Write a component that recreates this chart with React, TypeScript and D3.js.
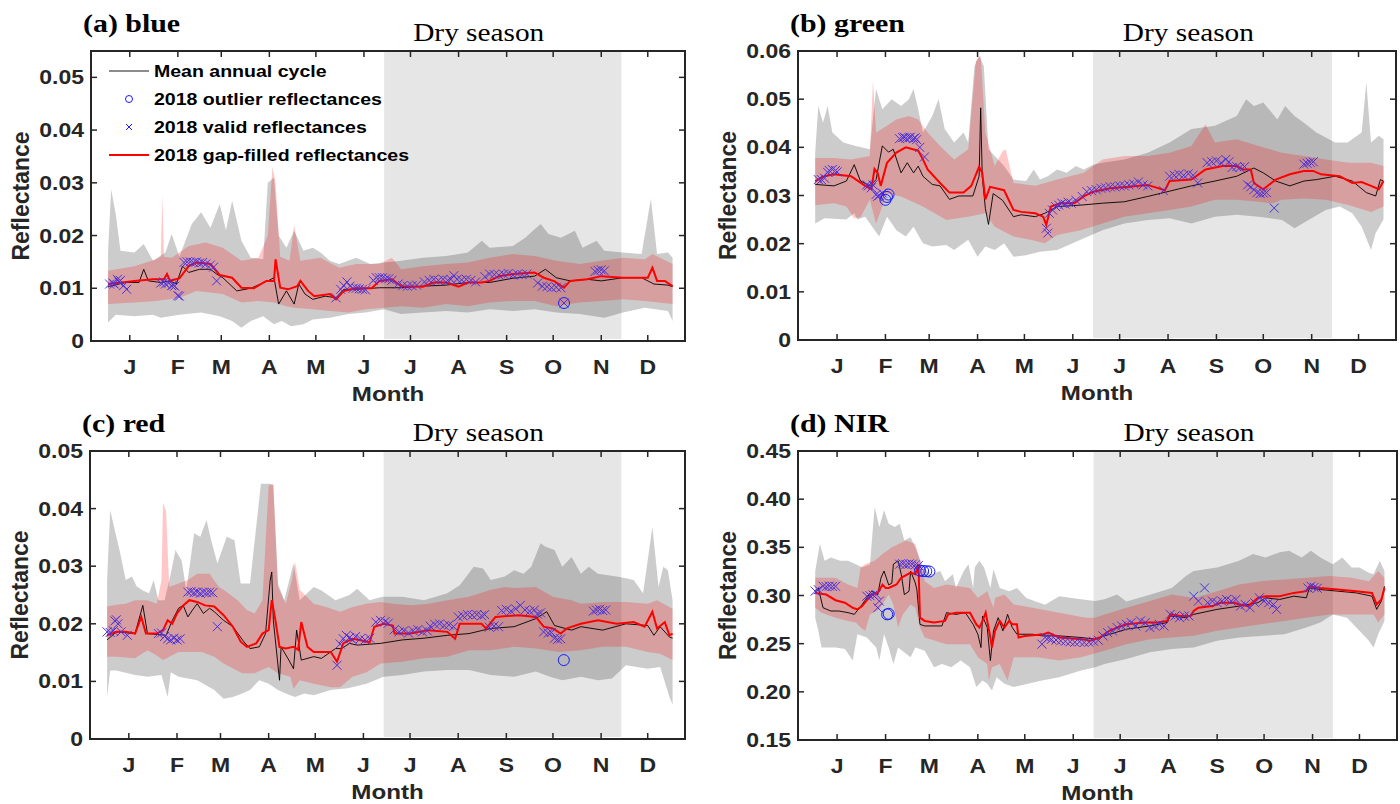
import * as d3 from 'd3';

type Pt = [number, number];

const monthLabels = ['J', 'F', 'M', 'A', 'M', 'J', 'J', 'A', 'S', 'O', 'N', 'D'];
const monthTickDays = [15, 46, 74, 105, 135, 166, 196, 227, 258, 288, 319, 349];
const drySeason = [179, 332];

// ---------- (a) blue ----------
const blueMean: Pt[] = [[1,0.0103],[12,0.0111],[21,0.0111],[24,0.0136],[27,0.0114],[35,0.0111],[41,0.0114],[45,0.0108],[49,0.0142],[53,0.0130],[60,0.0136],[67,0.0136],[71,0.0127],[75,0.0120],[84,0.0095],[93,0.0100],[104,0.0114],[108,0.0120],[111,0.0070],[116,0.0095],[121,0.0070],[124,0.0108],[128,0.0089],[133,0.0079],[141,0.0085],[148,0.0082],[153,0.0098],[161,0.0098],[176,0.0101],[190,0.0101],[204,0.0104],[219,0.0106],[233,0.0111],[247,0.0111],[262,0.0119],[276,0.0123],[283,0.0136],[290,0.0120],[299,0.0114],[310,0.0117],[319,0.0114],[333,0.0120],[345,0.0120],[353,0.0108],[362,0.0106],[365,0.0103]];
const blueFilled: Pt[] = [[1,0.0108],[10,0.0111],[18,0.0114],[30,0.0117],[37,0.0117],[39,0.0127],[41,0.0114],[47,0.0119],[53,0.0142],[58,0.0149],[67,0.0146],[73,0.0125],[81,0.0120],[87,0.0101],[95,0.0100],[103,0.0114],[108,0.0114],[109,0.0155],[112,0.0101],[117,0.0098],[123,0.0104],[125,0.0114],[130,0.0095],[134,0.0085],[144,0.0089],[148,0.0079],[153,0.0095],[161,0.0100],[171,0.0100],[176,0.0114],[184,0.0117],[190,0.0104],[204,0.0103],[211,0.0111],[219,0.0111],[227,0.0103],[233,0.0111],[242,0.0111],[247,0.0114],[253,0.0123],[262,0.0127],[276,0.0130],[282,0.0120],[289,0.0113],[295,0.0101],[299,0.0114],[310,0.0117],[319,0.0123],[333,0.0120],[349,0.0120],[352,0.0139],[355,0.0114],[360,0.0114],[365,0.0104]];
const blueGrayHi: Pt[] = [[1,0.017],[3,0.0288],[6,0.024],[9,0.0171],[18,0.0168],[24,0.0184],[30,0.0152],[38,0.0168],[42,0.0203],[47,0.016],[55,0.0222],[61,0.0244],[67,0.0215],[73,0.026],[77,0.021],[81,0.0266],[87,0.019],[93,0.0158],[101,0.0155],[104,0.030],[108,0.031],[111,0.020],[116,0.0177],[121,0.0209],[127,0.0171],[133,0.0177],[138,0.0168],[144,0.0152],[150,0.0146],[161,0.0158],[170,0.0146],[179,0.0149],[190,0.0152],[204,0.0158],[219,0.0161],[233,0.0168],[242,0.019],[247,0.0177],[262,0.018],[270,0.0196],[276,0.0212],[280,0.0222],[285,0.0203],[293,0.0196],[302,0.0209],[307,0.0177],[316,0.019],[321,0.0171],[333,0.0168],[345,0.0165],[351,0.027],[355,0.0165],[362,0.0168],[365,0.0158]];
const blueGrayLo: Pt[] = [[1,0.0035],[6,0.005],[18,0.0047],[30,0.005],[35,0.0044],[47,0.005],[61,0.0054],[73,0.0047],[81,0.0038],[87,0.0025],[93,0.0038],[101,0.0047],[108,0.0032],[113,0.0038],[119,0.0028],[127,0.0032],[133,0.0041],[144,0.0044],[156,0.0051],[167,0.0054],[179,0.006],[190,0.0051],[204,0.0054],[219,0.0057],[233,0.0054],[247,0.006],[262,0.0057],[276,0.006],[290,0.0054],[305,0.0051],[321,0.0044],[333,0.0054],[347,0.0063],[362,0.0057],[365,0.0038]];
const bluePinkHi: Pt[] = [[1,0.0133],[18,0.0142],[32,0.0155],[35,0.016],[36,0.0278],[37,0.016],[42,0.0158],[53,0.018],[64,0.0187],[75,0.0177],[87,0.0152],[98,0.0158],[104,0.020],[107,0.033],[109,0.030],[112,0.016],[118,0.0152],[121,0.022],[125,0.0152],[138,0.0158],[150,0.0139],[161,0.0146],[176,0.0146],[184,0.0158],[190,0.0136],[204,0.0142],[219,0.0146],[233,0.0149],[247,0.0158],[262,0.0165],[276,0.0161],[290,0.0152],[305,0.0146],[319,0.0152],[333,0.0158],[347,0.0155],[352,0.0165],[365,0.0146]];
const bluePinkLo: Pt[] = [[1,0.007],[18,0.0073],[32,0.0076],[47,0.0082],[58,0.0095],[75,0.0089],[87,0.0073],[98,0.0076],[108,0.0073],[116,0.0066],[121,0.0063],[133,0.006],[144,0.0057],[156,0.0054],[167,0.006],[179,0.0063],[190,0.0066],[204,0.0063],[219,0.007],[233,0.0066],[247,0.0073],[262,0.0076],[276,0.0076],[290,0.0066],[305,0.0073],[319,0.0076],[333,0.0079],[347,0.0076],[365,0.007]];
const blueValid: Pt[] = [[2,0.0108],[4,0.011],[5,0.0108],[7,0.0117],[8,0.0112],[9,0.0115],[11,0.0105],[13,0.0098],[35,0.011],[37,0.0112],[38,0.0108],[40,0.011],[42,0.0105],[43,0.0106],[44,0.0104],[46,0.0086],[47,0.0085],[50,0.0149],[52,0.015],[54,0.015],[56,0.0149],[58,0.015],[60,0.0148],[62,0.0149],[64,0.0146],[67,0.0144],[69,0.014],[71,0.0114],[148,0.0082],[151,0.0098],[153,0.0105],[155,0.0112],[157,0.0104],[159,0.01],[161,0.01],[163,0.0099],[165,0.0098],[167,0.0097],[172,0.0115],[174,0.012],[176,0.012],[178,0.012],[180,0.0118],[182,0.0118],[184,0.0115],[188,0.0108],[191,0.0105],[194,0.0104],[197,0.0105],[200,0.0106],[205,0.0112],[208,0.0115],[211,0.0117],[214,0.0115],[217,0.0117],[220,0.0115],[222,0.0117],[224,0.0124],[226,0.0117],[229,0.0116],[232,0.0117],[235,0.0115],[238,0.0112],[244,0.0122],[247,0.0127],[250,0.0126],[253,0.0125],[256,0.0127],[259,0.0128],[262,0.0125],[265,0.0127],[268,0.0126],[271,0.0127],[278,0.011],[281,0.0104],[284,0.0103],[287,0.0101],[290,0.0102],[293,0.0101],[295,0.0072],[315,0.0132],[317,0.0134],[319,0.0135],[321,0.0133]];
const blueOutlier: Pt[] = [[295,0.0072]];

// ---------- (b) green ----------
const greenMean: Pt[] = [[1,0.0323],[13,0.032],[21,0.033],[26,0.0364],[30,0.033],[36,0.032],[40,0.0333],[44,0.0403],[48,0.039],[51,0.0396],[56,0.0347],[60,0.0368],[64,0.0347],[67,0.0361],[70,0.034],[76,0.0323],[81,0.032],[87,0.0292],[93,0.0299],[102,0.0299],[106,0.034],[107,0.0482],[108,0.034],[110,0.0273],[112,0.024],[115,0.0304],[121,0.029],[128,0.0256],[133,0.026],[142,0.0256],[148,0.0263],[156,0.0277],[171,0.028],[185,0.0284],[199,0.0287],[214,0.0298],[228,0.0309],[242,0.032],[257,0.033],[271,0.034],[282,0.0357],[288,0.0347],[296,0.033],[305,0.032],[314,0.033],[322,0.0333],[334,0.034],[345,0.033],[354,0.0306],[360,0.0299],[363,0.0333],[365,0.033]];
const greenFilled: Pt[] = [[1,0.033],[7,0.034],[13,0.0344],[24,0.034],[33,0.032],[37,0.0313],[39,0.0355],[41,0.0347],[43,0.032],[47,0.0368],[53,0.0389],[59,0.040],[67,0.0393],[70,0.0375],[73,0.0354],[81,0.0326],[87,0.0306],[96,0.0306],[101,0.032],[106,0.036],[108,0.0347],[110,0.0292],[113,0.0318],[122,0.0311],[128,0.027],[133,0.0266],[142,0.0263],[147,0.0256],[149,0.0239],[152,0.0277],[158,0.0284],[167,0.0284],[173,0.0298],[179,0.0308],[190,0.0315],[202,0.0318],[214,0.0322],[225,0.0311],[228,0.033],[242,0.0333],[251,0.0354],[262,0.0361],[271,0.0361],[275,0.0354],[280,0.0354],[282,0.0326],[288,0.0313],[296,0.0333],[305,0.0344],[314,0.0351],[320,0.0351],[325,0.0344],[337,0.034],[345,0.0326],[351,0.0328],[357,0.032],[362,0.0313],[365,0.033]];
const greenGrayHi: Pt[] = [[1,0.0389],[3,0.0486],[6,0.0451],[9,0.0486],[12,0.0431],[19,0.041],[27,0.0403],[36,0.0396],[40,0.0521],[44,0.0479],[50,0.05],[56,0.0486],[61,0.05],[64,0.0521],[67,0.0479],[70,0.0431],[76,0.0465],[80,0.05],[84,0.0438],[90,0.041],[96,0.0431],[99,0.041],[103,0.0569],[106,0.059],[109,0.0569],[112,0.0396],[116,0.0382],[122,0.0361],[128,0.0333],[136,0.033],[141,0.0354],[145,0.0333],[150,0.034],[156,0.0354],[162,0.0347],[168,0.0361],[173,0.0354],[179,0.0364],[185,0.0368],[199,0.0375],[214,0.0389],[228,0.041],[242,0.0438],[257,0.0445],[271,0.0465],[277,0.05],[282,0.0486],[288,0.0493],[297,0.0458],[302,0.0486],[308,0.0465],[314,0.0451],[322,0.0431],[334,0.041],[342,0.041],[351,0.0431],[354,0.0535],[357,0.041],[362,0.0424],[365,0.0417]];
const greenGrayLo: Pt[] = [[1,0.0242],[7,0.0253],[21,0.025],[26,0.0263],[28,0.025],[33,0.0256],[42,0.0215],[47,0.0256],[53,0.0228],[59,0.0215],[64,0.0235],[70,0.0201],[76,0.0194],[85,0.0197],[90,0.0187],[99,0.0208],[105,0.0173],[110,0.0194],[116,0.0187],[122,0.0201],[128,0.0173],[136,0.0176],[145,0.0183],[156,0.0187],[171,0.0208],[185,0.0228],[199,0.0242],[214,0.0249],[228,0.0253],[242,0.0242],[257,0.0256],[271,0.026],[285,0.0256],[300,0.0249],[308,0.0232],[317,0.0249],[328,0.027],[337,0.0277],[345,0.0263],[351,0.0235],[357,0.0187],[360,0.0222],[365,0.025]];
const greenPinkHi: Pt[] = [[1,0.0378],[13,0.0378],[24,0.0375],[36,0.0382],[38,0.054],[40,0.0431],[47,0.0445],[53,0.0458],[61,0.0465],[67,0.0458],[73,0.0431],[81,0.0403],[90,0.0375],[99,0.0396],[104,0.058],[107,0.059],[110,0.0431],[116,0.0361],[121,0.0392],[123,0.0396],[128,0.0326],[142,0.032],[156,0.0333],[173,0.0347],[185,0.0375],[199,0.0382],[214,0.0382],[228,0.0389],[242,0.0403],[251,0.0448],[257,0.041],[271,0.0417],[285,0.0403],[300,0.0389],[314,0.0382],[328,0.0375],[343,0.0368],[357,0.0368],[365,0.0361]];
const greenPinkLo: Pt[] = [[1,0.028],[13,0.0284],[21,0.0277],[26,0.0253],[30,0.0255],[36,0.0291],[40,0.0242],[47,0.0304],[56,0.0298],[70,0.0277],[85,0.0249],[99,0.0256],[110,0.0263],[116,0.0235],[128,0.0215],[139,0.0208],[148,0.0201],[156,0.0218],[171,0.0228],[185,0.0242],[199,0.0256],[214,0.0263],[228,0.027],[242,0.0277],[257,0.0291],[271,0.0291],[285,0.0287],[294,0.0284],[300,0.0291],[314,0.0294],[328,0.0291],[343,0.028],[357,0.0266],[365,0.0277]];
const greenValid: Pt[] = [[3,0.0333],[5,0.0333],[7,0.0336],[9,0.0348],[10,0.0352],[12,0.0354],[14,0.0352],[15,0.0349],[34,0.0322],[35,0.032],[37,0.0316],[38,0.0322],[40,0.0302],[41,0.0298],[42,0.03],[44,0.0305],[55,0.0418],[57,0.042],[58,0.0421],[59,0.0419],[61,0.042],[62,0.0421],[64,0.0418],[65,0.042],[66,0.0416],[68,0.04],[71,0.038],[149,0.0232],[150,0.0222],[151,0.0263],[153,0.027],[155,0.0277],[157,0.028],[159,0.0284],[161,0.0282],[163,0.0286],[165,0.0284],[168,0.029],[172,0.0298],[175,0.0308],[178,0.031],[181,0.0312],[184,0.0315],[187,0.0316],[190,0.0318],[193,0.0318],[196,0.032],[199,0.032],[202,0.0322],[205,0.0324],[208,0.0328],[211,0.0322],[214,0.032],[224,0.031],[228,0.034],[231,0.0342],[234,0.0344],[237,0.0342],[240,0.0345],[243,0.0342],[246,0.0326],[252,0.0368],[255,0.037],[258,0.0372],[261,0.0368],[264,0.0375],[266,0.037],[268,0.0358],[271,0.036],[273,0.0358],[276,0.036],[278,0.0322],[280,0.0318],[282,0.0312],[284,0.0306],[286,0.0304],[288,0.0305],[290,0.0306],[295,0.0274],[314,0.0365],[316,0.0367],[318,0.0369],[320,0.037]];
const greenOutlier: Pt[] = [[46,0.0291],[47,0.0297],[48,0.0302]];

// ---------- (c) red ----------
const redMean: Pt[] = [[1,0.0172],[7,0.0186],[19,0.0183],[24,0.0232],[27,0.0183],[39,0.018],[43,0.0206],[47,0.0227],[50,0.0232],[53,0.0212],[56,0.0224],[59,0.0235],[63,0.0218],[67,0.0227],[70,0.0221],[76,0.0206],[82,0.0195],[89,0.0169],[93,0.0157],[99,0.016],[103,0.0183],[106,0.0276],[107,0.029],[108,0.0206],[112,0.0102],[113,0.016],[118,0.0137],[121,0.0122],[123,0.0189],[126,0.0137],[134,0.0143],[139,0.014],[148,0.0157],[152,0.0157],[157,0.0166],[162,0.0163],[177,0.0166],[191,0.0172],[205,0.0175],[220,0.018],[234,0.0183],[248,0.0192],[263,0.0195],[277,0.0209],[284,0.0221],[289,0.0197],[300,0.0189],[306,0.0195],[320,0.0189],[335,0.02],[349,0.0197],[353,0.018],[357,0.0195],[363,0.0177],[365,0.0175]];
const redFilled: Pt[] = [[1,0.018],[7,0.0186],[13,0.0186],[19,0.0183],[23,0.0212],[26,0.0183],[33,0.0183],[37,0.0189],[40,0.0206],[43,0.02],[46,0.0218],[50,0.0232],[54,0.0241],[59,0.0238],[64,0.0232],[70,0.023],[76,0.0215],[82,0.0195],[87,0.0169],[91,0.016],[97,0.0166],[101,0.0183],[105,0.0189],[107,0.0241],[109,0.0212],[112,0.016],[116,0.0157],[121,0.016],[124,0.0155],[126,0.0203],[130,0.016],[134,0.0151],[145,0.0151],[149,0.0134],[153,0.0166],[159,0.0174],[165,0.0171],[170,0.0168],[173,0.0195],[179,0.02],[185,0.0197],[186,0.0183],[196,0.0183],[208,0.0189],[220,0.0186],[225,0.0174],[228,0.02],[242,0.02],[245,0.0192],[251,0.0212],[266,0.0215],[277,0.0212],[282,0.0195],[288,0.0192],[293,0.0183],[297,0.0192],[306,0.02],[317,0.0206],[329,0.02],[340,0.0203],[347,0.0195],[352,0.0221],[355,0.0192],[360,0.0203],[363,0.018],[365,0.0183]];
const redGrayHi: Pt[] = [[1,0.0277],[3,0.0397],[6,0.0362],[9,0.0328],[13,0.0276],[17,0.0282],[20,0.0265],[24,0.0258],[28,0.0253],[31,0.0276],[34,0.0241],[38,0.0241],[42,0.0287],[45,0.0328],[49,0.031],[52,0.0258],[57,0.0357],[61,0.0351],[65,0.038],[68,0.0345],[72,0.0305],[78,0.0351],[83,0.0345],[87,0.027],[93,0.027],[100,0.0443],[106,0.0443],[108,0.044],[111,0.027],[115,0.0241],[121,0.0305],[125,0.0241],[134,0.0264],[139,0.0258],[148,0.0241],[157,0.025],[162,0.0261],[170,0.0241],[178,0.0247],[191,0.0247],[205,0.0241],[220,0.0253],[228,0.0267],[237,0.0299],[243,0.0296],[248,0.0276],[257,0.0282],[263,0.0293],[269,0.0287],[274,0.0299],[280,0.034],[283,0.0334],[289,0.0328],[294,0.0299],[300,0.0316],[306,0.0287],[311,0.0299],[317,0.0287],[329,0.0282],[335,0.0279],[340,0.0276],[346,0.0253],[352,0.0368],[356,0.0264],[359,0.0299],[362,0.0293],[365,0.0241]];
const redGrayLo: Pt[] = [[1,0.0073],[3,0.0119],[7,0.0119],[19,0.0111],[27,0.0108],[36,0.0111],[40,0.0073],[42,0.0116],[47,0.0108],[59,0.0102],[70,0.0085],[76,0.007],[82,0.0073],[88,0.0079],[93,0.0085],[99,0.0102],[105,0.0096],[111,0.0085],[116,0.0079],[122,0.0073],[128,0.0079],[134,0.0076],[145,0.0085],[156,0.0088],[168,0.0096],[179,0.0108],[191,0.0111],[205,0.0117],[220,0.012],[234,0.012],[248,0.0111],[263,0.0108],[277,0.0117],[286,0.0108],[294,0.0102],[306,0.0108],[317,0.0102],[326,0.0105],[335,0.0128],[349,0.0122],[357,0.0125],[363,0.0073],[365,0.006]];
const redPinkHi: Pt[] = [[1,0.023],[7,0.0233],[13,0.0235],[19,0.0241],[27,0.0241],[33,0.0235],[36,0.0276],[37,0.041],[39,0.0395],[41,0.0264],[47,0.027],[53,0.0276],[59,0.0287],[67,0.0287],[73,0.0264],[76,0.0259],[85,0.0241],[91,0.0224],[96,0.0218],[101,0.0241],[105,0.044],[108,0.0443],[111,0.0264],[116,0.0235],[120,0.0276],[122,0.0308],[125,0.0259],[134,0.0235],[142,0.0229],[151,0.0221],[159,0.0229],[168,0.0235],[177,0.0238],[185,0.0235],[197,0.0232],[208,0.0235],[220,0.0241],[234,0.0247],[248,0.0259],[257,0.0264],[263,0.0262],[277,0.0264],[288,0.0247],[300,0.0241],[306,0.0235],[320,0.0238],[335,0.0238],[349,0.0235],[355,0.0241],[365,0.0226]];
const redPinkLo: Pt[] = [[1,0.0143],[7,0.0143],[19,0.014],[27,0.0154],[33,0.0145],[37,0.0137],[47,0.0151],[62,0.0151],[70,0.0143],[76,0.0131],[88,0.0114],[96,0.0114],[105,0.0125],[111,0.0114],[119,0.0108],[121,0.0087],[125,0.0102],[134,0.0096],[145,0.009],[151,0.009],[159,0.0108],[168,0.0116],[177,0.0131],[191,0.0134],[205,0.014],[220,0.0143],[234,0.0154],[248,0.0154],[263,0.016],[277,0.0157],[292,0.0151],[306,0.0154],[320,0.016],[335,0.016],[349,0.0151],[357,0.0148],[365,0.0137]];
const redValid: Pt[] = [[1,0.0186],[3,0.0185],[5,0.0188],[6,0.0205],[7,0.0207],[8,0.02],[10,0.0186],[14,0.018],[34,0.0183],[36,0.0184],[38,0.0178],[40,0.0174],[42,0.0172],[44,0.0175],[46,0.0172],[48,0.0174],[53,0.0255],[55,0.0256],[57,0.0254],[59,0.0255],[61,0.0253],[63,0.0255],[65,0.0254],[67,0.0255],[69,0.0254],[72,0.0195],[149,0.0128],[151,0.0165],[153,0.0174],[155,0.018],[157,0.0176],[159,0.0172],[161,0.0178],[164,0.0174],[167,0.0172],[170,0.0175],[174,0.0203],[177,0.0206],[180,0.0204],[182,0.0201],[186,0.019],[189,0.0186],[192,0.0188],[195,0.0184],[198,0.0188],[201,0.019],[204,0.0186],[207,0.0188],[209,0.0196],[212,0.0199],[215,0.02],[218,0.0197],[221,0.0198],[224,0.0195],[227,0.0212],[230,0.0214],[233,0.0216],[236,0.0215],[239,0.0216],[242,0.0214],[244,0.0216],[247,0.0194],[250,0.0196],[253,0.0195],[255,0.0223],[258,0.0225],[261,0.0222],[264,0.0226],[267,0.0232],[270,0.0224],[273,0.0222],[276,0.0224],[278,0.0217],[280,0.0219],[282,0.0186],[285,0.0184],[287,0.0185],[289,0.0175],[291,0.0173],[293,0.0174],[314,0.0222],[316,0.0224],[318,0.0225],[320,0.0223],[322,0.0224]];
const redOutlier: Pt[] = [[295,0.0137]];

// ---------- (d) NIR ----------
const nirMean: Pt[] = [[1,0.3045],[3,0.3079],[6,0.2873],[11,0.2839],[16,0.2839],[22,0.2822],[26,0.2804],[31,0.2907],[37,0.3045],[41,0.301],[43,0.318],[45,0.3254],[48,0.311],[50,0.3128],[51,0.3325],[54,0.336],[56,0.322],[58,0.3009],[61,0.3044],[62,0.3254],[65,0.313],[66,0.306],[68,0.27],[71,0.2684],[82,0.2684],[85,0.2822],[91,0.2804],[97,0.2822],[102,0.27],[105,0.2598],[107,0.246],[108,0.2787],[111,0.2667],[113,0.2324],[115,0.2633],[118,0.277],[121,0.2633],[124,0.2804],[127,0.2667],[130,0.2598],[140,0.2598],[146,0.2581],[157,0.2581],[171,0.2564],[180,0.2547],[186,0.2581],[200,0.265],[215,0.2684],[226,0.2719],[228,0.2787],[238,0.277],[243,0.2804],[258,0.2856],[272,0.289],[284,0.2925],[289,0.2976],[298,0.2959],[307,0.2993],[315,0.2976],[317,0.3079],[324,0.3062],[335,0.3045],[347,0.3027],[357,0.2993],[360,0.2856],[363,0.2942],[365,0.3096]];
const nirFilled: Pt[] = [[1,0.3027],[8,0.301],[14,0.2951],[20,0.2925],[25,0.2873],[28,0.2856],[31,0.289],[37,0.301],[41,0.3027],[44,0.3113],[46,0.3079],[48,0.3079],[53,0.3114],[56,0.3184],[62,0.3237],[65,0.322],[67,0.3325],[68,0.277],[71,0.2736],[77,0.2719],[84,0.2736],[86,0.2804],[91,0.2821],[100,0.2821],[104,0.2701],[106,0.2667],[108,0.2736],[110,0.2821],[113,0.2564],[114,0.2461],[116,0.2633],[119,0.2736],[122,0.2667],[125,0.2736],[127,0.2701],[130,0.2701],[131,0.2564],[135,0.258],[147,0.2598],[150,0.2615],[157,0.2564],[171,0.2547],[177,0.253],[183,0.2564],[189,0.2633],[194,0.2667],[200,0.2701],[212,0.2719],[220,0.2719],[226,0.2736],[228,0.2804],[235,0.2787],[241,0.2787],[243,0.2839],[246,0.2873],[255,0.289],[260,0.2925],[269,0.2925],[272,0.2907],[278,0.289],[284,0.2976],[289,0.2993],[298,0.2993],[307,0.3027],[315,0.3045],[317,0.3096],[324,0.3079],[335,0.3062],[347,0.3045],[357,0.3027],[360,0.2907],[363,0.2959],[365,0.3079]];
const nirGrayHi: Pt[] = [[1,0.3254],[4,0.3535],[7,0.336],[11,0.3395],[17,0.336],[22,0.336],[27,0.3325],[31,0.329],[36,0.3325],[39,0.392],[42,0.371],[45,0.3886],[48,0.3746],[52,0.371],[55,0.3746],[58,0.357],[62,0.3605],[65,0.35],[70,0.329],[75,0.322],[81,0.3254],[84,0.3149],[89,0.322],[91,0.3079],[96,0.3254],[99,0.3325],[102,0.3079],[103,0.329],[106,0.336],[109,0.329],[113,0.3079],[115,0.3272],[119,0.3079],[125,0.3044],[130,0.3079],[136,0.2974],[142,0.2938],[148,0.2903],[157,0.2993],[171,0.296],[180,0.2942],[186,0.296],[194,0.301],[200,0.2938],[215,0.3009],[229,0.3079],[238,0.3202],[243,0.3254],[258,0.329],[272,0.336],[281,0.343],[289,0.3395],[298,0.345],[304,0.3465],[312,0.3395],[318,0.3465],[324,0.3395],[332,0.3325],[338,0.3395],[344,0.329],[349,0.329],[355,0.3237],[358,0.322],[362,0.336],[365,0.3254]];
const nirGrayLo: Pt[] = [[1,0.277],[3,0.2633],[5,0.2461],[14,0.2461],[20,0.2444],[25,0.2324],[28,0.2598],[34,0.2564],[40,0.2461],[42,0.2324],[45,0.2598],[48,0.2461],[51,0.229],[54,0.2461],[62,0.2358],[65,0.2461],[71,0.2427],[77,0.2255],[82,0.229],[88,0.2255],[94,0.2324],[100,0.2255],[104,0.2049],[108,0.2118],[111,0.2084],[114,0.2015],[117,0.2152],[122,0.2084],[128,0.205],[137,0.2084],[146,0.2118],[157,0.2152],[171,0.2221],[180,0.2255],[186,0.229],[200,0.2341],[215,0.241],[229,0.2444],[243,0.2461],[258,0.253],[272,0.2564],[286,0.258],[301,0.2598],[315,0.2667],[324,0.2719],[332,0.2804],[341,0.277],[349,0.2633],[355,0.253],[358,0.2461],[361,0.2598],[365,0.2736]];
const nirPinkHi: Pt[] = [[1,0.3184],[14,0.3184],[22,0.3114],[28,0.3079],[30,0.329],[33,0.3325],[39,0.336],[44,0.343],[50,0.35],[59,0.357],[65,0.3535],[68,0.336],[71,0.3148],[77,0.3079],[85,0.3113],[100,0.3079],[105,0.2976],[111,0.3045],[115,0.2873],[116,0.2976],[122,0.301],[128,0.2907],[140,0.2873],[151,0.2839],[163,0.2804],[174,0.277],[180,0.277],[186,0.2804],[200,0.2873],[215,0.2942],[229,0.301],[243,0.2974],[258,0.3044],[272,0.3114],[286,0.3149],[301,0.3167],[315,0.3184],[330,0.3202],[344,0.3184],[355,0.3149],[361,0.3254],[365,0.3184]];
const nirPinkLo: Pt[] = [[1,0.2873],[5,0.2821],[14,0.277],[22,0.2736],[27,0.2719],[30,0.2667],[33,0.2633],[36,0.2804],[42,0.2856],[48,0.301],[51,0.2907],[54,0.2667],[57,0.2804],[62,0.2907],[65,0.2873],[68,0.2667],[71,0.2564],[85,0.2495],[100,0.2495],[105,0.2358],[111,0.229],[112,0.2118],[114,0.2255],[119,0.229],[124,0.2118],[128,0.2358],[143,0.2358],[157,0.2324],[171,0.2358],[186,0.2427],[200,0.2495],[215,0.2547],[229,0.2564],[243,0.2581],[258,0.2633],[272,0.2667],[286,0.2701],[301,0.2736],[315,0.277],[330,0.2804],[344,0.2804],[358,0.2804],[361,0.2719],[365,0.2804]];
const nirValid: Pt[] = [[1,0.3045],[3,0.306],[6,0.3096],[8,0.3092],[10,0.3098],[12,0.3094],[14,0.3096],[34,0.2993],[36,0.2998],[38,0.3005],[40,0.301],[41,0.2873],[42,0.2942],[55,0.3325],[57,0.333],[59,0.3322],[61,0.3328],[63,0.3325],[65,0.3318],[67,0.3312],[146,0.2495],[148,0.2565],[150,0.2558],[152,0.2545],[155,0.2538],[158,0.253],[161,0.2525],[164,0.252],[167,0.2515],[170,0.252],[173,0.2512],[176,0.2515],[179,0.2525],[182,0.2535],[185,0.258],[188,0.2615],[191,0.2633],[194,0.2667],[197,0.2684],[200,0.2701],[203,0.2719],[206,0.2684],[209,0.2736],[212,0.2719],[215,0.2667],[218,0.2684],[221,0.2701],[224,0.2684],[228,0.2804],[231,0.2787],[234,0.277],[237,0.2787],[240,0.2787],[243,0.2993],[246,0.2942],[250,0.3079],[252,0.2925],[255,0.2942],[258,0.2925],[261,0.2942],[264,0.2959],[267,0.2942],[270,0.2959],[273,0.289],[276,0.2907],[279,0.2873],[282,0.2925],[285,0.2976],[288,0.2942],[291,0.2925],[294,0.2907],[296,0.2856],[316,0.3079],[318,0.3096],[320,0.3085],[322,0.3075]];
const nirOutlier: Pt[] = [[47,0.2804],[48,0.281],[68,0.3258],[70,0.3254],[72,0.3252],[74,0.3249]];

const blueTicks = [0, 0.01, 0.02, 0.03, 0.04, 0.05];
const greenTicks = [0, 0.01, 0.02, 0.03, 0.04, 0.05, 0.06];
const redTicks = [0, 0.01, 0.02, 0.03, 0.04, 0.05];
const nirTicks = [0.15, 0.2, 0.25, 0.3, 0.35, 0.4, 0.45];

const SANS = '"Liberation Sans", Arial, Helvetica, sans-serif';
const SERIF = '"Liberation Serif", "Times New Roman", serif';
const AXIS = '#262626';
const SX = 1.15; // the original figure is stretched horizontally

const panels = [
  { id: 'a', title: '(a) blue', box: [91, 51, 685, 341], yDomain: [0, 0.055], ticks: blueTicks, mean: blueMean, filled: blueFilled, grayHi: blueGrayHi, grayLo: blueGrayLo, pinkHi: bluePinkHi, pinkLo: bluePinkLo, valid: blueValid, outlier: blueOutlier, legend: true },
  { id: 'b', title: '(b) green', box: [798, 51, 1396, 340], yDomain: [0, 0.06], ticks: greenTicks, mean: greenMean, filled: greenFilled, grayHi: greenGrayHi, grayLo: greenGrayLo, pinkHi: greenPinkHi, pinkLo: greenPinkLo, valid: greenValid, outlier: greenOutlier, legend: false },
  { id: 'c', title: '(c) red', box: [90, 451, 685, 739], yDomain: [0, 0.05], ticks: redTicks, mean: redMean, filled: redFilled, grayHi: redGrayHi, grayLo: redGrayLo, pinkHi: redPinkHi, pinkLo: redPinkLo, valid: redValid, outlier: redOutlier, legend: false },
  { id: 'd', title: '(d) NIR', box: [798, 451, 1397, 740], yDomain: [0.15, 0.45], ticks: nirTicks, mean: nirMean, filled: nirFilled, grayHi: nirGrayHi, grayLo: nirGrayLo, pinkHi: nirPinkHi, pinkLo: nirPinkLo, valid: nirValid, outlier: nirOutlier, legend: false },
];

function fmtTick(v: number) {
  return v === 0 ? '0' : v.toFixed(2);
}

function Txt({ x, y, anchor = 'start', size, family = SANS, weight = 'bold', fill = AXIS, children }: any) {
  return (
    <text transform={`translate(${x},${y}) scale(${SX},1)`} textAnchor={anchor} fontSize={size}
      fontFamily={family} fontWeight={weight} fill={fill}>{children}</text>
  );
}

const xMark = 'M-4.5,-4.5L4.5,4.5M-4.5,4.5L4.5,-4.5';

function Panel({ p }: { p: any }) {
  const [x0, y0, x1, y1] = p.box;
  const x = d3.scaleLinear().domain([-10, 373]).range([x0, x1]);
  const y = d3.scaleLinear().domain(p.yDomain).range([y1, y0]);
  const line = d3.line<Pt>().x(d => x(d[0])).y(d => y(d[1]));
  const band = (hi: Pt[], lo: Pt[]) => line(hi.concat(lo.slice().reverse())) + 'Z';
  const clipId = `clip-${p.id}`;
  const tl = 6;
  const midY = (y0 + y1) / 2;

  return (
    <g>
      <defs>
        <clipPath id={clipId}><rect x={x0} y={y0} width={x1 - x0} height={y1 - y0} /></clipPath>
      </defs>
      <g clipPath={`url(#${clipId})`}>
        <rect x={x(drySeason[0])} y={y0} width={x(drySeason[1]) - x(drySeason[0])} height={y1 - y0 - 2} fill="#e6e6e6" />
        <path d={band(p.grayHi, p.grayLo)} fill="#000" fillOpacity={0.2} />
        <path d={band(p.pinkHi, p.pinkLo)} fill="#ff0000" fillOpacity={0.22} />
        <path d={line(p.mean) || ''} fill="none" stroke="#000" strokeWidth={0.9} />
        <path d={line(p.filled) || ''} fill="none" stroke="#ff0000" strokeWidth={2} />
        {p.valid.map((d: Pt, i: number) => (
          <path key={i} d={xMark} transform={`translate(${x(d[0])},${y(d[1])})`} stroke="#4a30e0" strokeWidth={1} fill="none" />
        ))}
        {p.outlier.map((d: Pt, i: number) => (
          <circle key={i} cx={x(d[0])} cy={y(d[1])} r={5.5} stroke="#1a1aff" strokeWidth={1} fill="none" />
        ))}
      </g>

      {/* axes box */}
      <rect x={x0} y={y0} width={x1 - x0} height={y1 - y0} fill="none" stroke={AXIS} strokeWidth={2} />
      {monthTickDays.map((d, i) => (
        <g key={i}>
          <line x1={x(d)} x2={x(d)} y1={y1} y2={y1 - tl} stroke={AXIS} strokeWidth={1.5} />
          <line x1={x(d)} x2={x(d)} y1={y0} y2={y0 + tl} stroke={AXIS} strokeWidth={1.5} />
          <Txt x={x(d)} y={y1 + 33} anchor="middle" size={20}>{monthLabels[i]}</Txt>
        </g>
      ))}
      {p.ticks.map((t: number, i: number) => (
        <g key={i}>
          <line x1={x0} x2={x0 + tl} y1={y(t)} y2={y(t)} stroke={AXIS} strokeWidth={1.5} />
          <line x1={x1} x2={x1 - tl} y1={y(t)} y2={y(t)} stroke={AXIS} strokeWidth={1.5} />
          <Txt x={x0 - 7} y={y(t) + 7} anchor="end" size={20}>{fmtTick(t)}</Txt>
        </g>
      ))}

      <Txt x={(x0 + x1) / 2} y={y1 + 60} anchor="middle" size={21}>Month</Txt>
      <text transform={`translate(${x0 - 62},${midY}) scale(1.05,1) rotate(-90)`} textAnchor="middle"
        fontSize={23} fontFamily={SANS} fontWeight="bold" fill={AXIS}>Reflectance</text>

      <Txt x={x0 - 8} y={y0 - 19} size={26} family={SERIF} fill="#000">{p.title}</Txt>
      <Txt x={x(240)} y={y0 - 10} anchor="middle" size={25.5} family={SERIF} weight="normal" fill="#000">Dry season</Txt>

      {p.legend && (
        <g>
          <line x1={x0 + 18} x2={x0 + 58} y1={y0 + 20} y2={y0 + 20} stroke="#000" strokeWidth={0.9} />
          <Txt x={x0 + 63} y={y0 + 26} size={17} fill="#000">Mean annual cycle</Txt>
          <circle cx={x0 + 38} cy={y0 + 48} r={3.5} stroke="#1a1aff" fill="none" strokeWidth={1} />
          <Txt x={x0 + 63} y={y0 + 54} size={17} fill="#000">2018 outlier reflectances</Txt>
          <path d="M-3,-3L3,3M-3,3L3,-3" transform={`translate(${x0 + 38},${y0 + 76})`} stroke="#1a1aff" strokeWidth={1} />
          <Txt x={x0 + 63} y={y0 + 82} size={17} fill="#000">2018 valid reflectances</Txt>
          <line x1={x0 + 18} x2={x0 + 58} y1={y0 + 104} y2={y0 + 104} stroke="#ff0000" strokeWidth={2} />
          <Txt x={x0 + 63} y={y0 + 110} size={17} fill="#000">2018 gap-filled reflectances</Txt>
        </g>
      )}
    </g>
  );
}

export default function App() {
  return (
    <svg width={1400} height={804} style={{ position: 'absolute', left: 0, top: 0, background: '#fff' }}>
      <rect width={1400} height={804} fill="#fff" />
      {panels.map(p => <Panel key={p.id} p={p} />)}
    </svg>
  );
}
